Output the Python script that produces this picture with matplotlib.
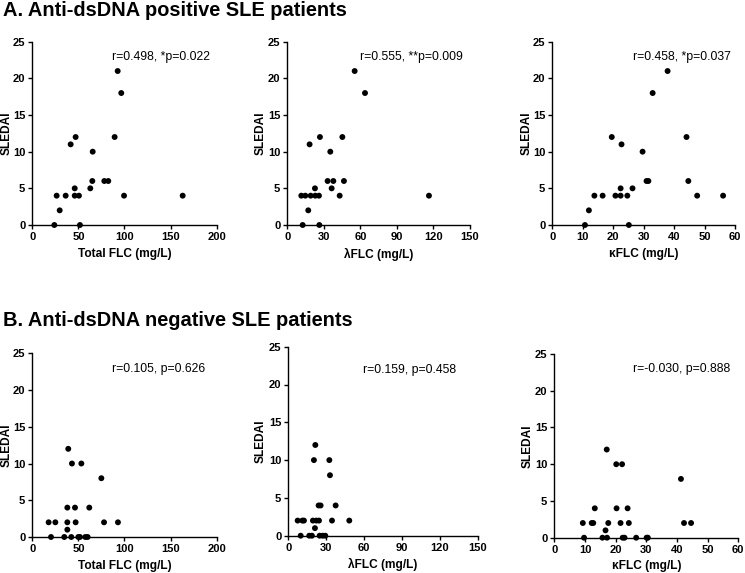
import numpy as np
import matplotlib
matplotlib.use("Agg")
import matplotlib.pyplot as plt

plt.rcParams['font.family'] = ['Liberation Sans', 'DejaVu Sans']

# ---- data ----
# A. anti-dsDNA positive
pos_total_x = [23.9, 26.4, 29.7, 36.2, 41.6, 46.0, 46.0, 47.0, 50.6, 51.7,
               62.9, 65.1, 65.5, 78.1, 82.4, 89.3, 92.6, 96.5, 99.5, 163.1]
pos_total_y = [0, 4, 2, 4, 11, 5, 4, 12, 4, 0,
               5, 6, 10, 6, 6, 12, 21, 18, 4, 4]

pos_lambda_x = [11.5, 12.6, 14.8, 17.2, 18.3, 19.2, 22.7, 23.0, 26.0, 26.3, 26.8,
                33.1, 35.3, 36.4, 37.8, 43.0, 45.2, 46.5, 55.3, 63.8, 116.3]
pos_lambda_y = [4, 0, 4, 2, 11, 4, 5, 4, 4, 0, 12,
                6, 10, 5, 6, 4, 12, 6, 21, 18, 4]

pos_kappa_x = [10.7, 12.0, 13.8, 16.5, 19.5, 20.7, 22.4, 22.4, 22.7, 24.6, 25.1,
               26.3, 29.6, 30.9, 31.5, 32.9, 37.8, 44.0, 44.6, 47.5, 56.0]
pos_kappa_y = [0, 2, 4, 4, 12, 4, 5, 4, 11, 4, 0,
               5, 10, 6, 6, 18, 21, 12, 6, 4, 4]

# B. anti-dsDNA negative
neg_total_x = [17.7, 20.3, 25.0, 34.7, 38.0, 38.0, 38.0, 39.0, 42.3, 43.0, 46.3,
               47.0, 49.9, 51.7, 53.2, 57.5, 60.0, 61.8, 74.9, 77.8, 92.9]
neg_total_y = [2, 0, 2, 0, 2, 1, 4, 12, 0, 10, 4,
               2, 0, 0, 10, 0, 0, 4, 8, 2, 2]

neg_lambda_x = [7.4, 9.8, 11.1, 12.4, 16.6, 18.7, 19.5, 20.3, 21.1, 21.4, 22.2,
                24.0, 24.3, 24.8, 25.6, 27.2, 29.3, 32.5, 33.0, 34.6, 37.5, 48.3]
neg_lambda_y = [2, 0, 2, 2, 0, 0, 2, 10, 1, 12, 2,
                4, 2, 0, 4, 0, 0, 10, 8, 2, 4, 2]

neg_kappa_x = [9.3, 9.7, 12.2, 12.7, 13.2, 15.7, 16.7, 17.1, 17.2, 17.6, 20.2, 20.3,
               21.6, 22.1, 22.3, 22.9, 23.9, 24.3, 26.7, 30.1, 30.5, 41.3, 42.3, 44.6]
neg_kappa_y = [2, 0, 2, 2, 4, 0, 1, 12, 0, 2, 10, 4,
               2, 10, 0, 0, 4, 2, 0, 0, 0, 8, 2, 2]

stats_text = ["r=0.498, *p=0.022", "r=0.555, **p=0.009", "r=0.458, *p=0.037",
              "r=0.105, p=0.626", "r=0.159, p=0.458", "r=-0.030, p=0.888"]
x_labels = ["Total FLC (mg/L)", "\u03bbFLC (mg/L)", "\u03baFLC (mg/L)"]
x_maxes = [200, 150, 60]
x_steps = [50, 30, 10]
row_titles = ["A. Anti-dsDNA positive SLE patients",
              "B. Anti-dsDNA negative SLE patients"]

W, H = 745, 573


def px_rect(x0, x1, top, bottom):
    """Pixel box -> figure fraction rect."""
    return [x0 / W, (H - bottom) / H, (x1 - x0) / W, (bottom - top) / H]


rects = [
    px_rect(32.3, 216.7, 41.7, 225.0),
    px_rect(287.3, 470.0, 41.7, 225.0),
    px_rect(552.3, 735.3, 41.7, 225.0),
    px_rect(32.3, 216.7, 353.3, 537.0),
    px_rect(288.3, 477.7, 346.7, 535.7),
    px_rect(554.3, 738.3, 354.0, 537.7),
]
text_pos = [(0.43, 0.915), (0.398, 0.915), (0.443, 0.915),
            (0.43, 0.915), (0.393, 0.877), (0.429, 0.918)]
ylabel_x = [-0.139, -0.144, -0.14, -0.139, -0.144, -0.147]

xs = [pos_total_x, pos_lambda_x, pos_kappa_x, neg_total_x, neg_lambda_x, neg_kappa_x]
ys = [pos_total_y, pos_lambda_y, pos_kappa_y, neg_total_y, neg_lambda_y, neg_kappa_y]

fig = plt.figure(figsize=(W / 100, H / 100), dpi=100)

for i in range(6):
    col = i % 3
    ax = fig.add_axes(rects[i])
    ax.scatter(xs[i], ys[i], s=18, color='black', edgecolors='none',
               clip_on=False, zorder=3)
    ax.set_xlim(0, x_maxes[col])
    ax.set_ylim(0, 25)
    ax.set_xticks(np.arange(0, x_maxes[col] + 1, x_steps[col]))
    ax.set_yticks(np.arange(0, 26, 5))
    for s in ['top', 'right']:
        ax.spines[s].set_visible(False)
    for s in ['left', 'bottom']:
        ax.spines[s].set_linewidth(1.0)
    ax.tick_params(direction='out', length=3, width=1.0, pad=2, labelsize=8)
    for lbl in ax.get_xticklabels() + ax.get_yticklabels():
        lbl.set_fontweight('bold')
    ax.set_ylabel("SLEDAI", fontsize=8.6, fontweight='bold')
    ax.yaxis.label.set_va('center')
    ax.yaxis.set_label_coords(ylabel_x[i], 0.5)
    ax.set_xlabel(x_labels[col], fontsize=8.6, fontweight='bold', labelpad=4)
    ax.text(text_pos[i][0], text_pos[i][1], stats_text[i], transform=ax.transAxes,
            fontsize=8.8, ha='left', va='center')

fig.text(3 / W, 1 - 16 / H, row_titles[0], fontsize=14.4, fontweight='bold',
         ha='left', va='baseline')
fig.text(3 / W, 1 - 325.7 / H, row_titles[1], fontsize=14.4, fontweight='bold',
         ha='left', va='baseline')

fig.savefig("out.png", dpi=100)
